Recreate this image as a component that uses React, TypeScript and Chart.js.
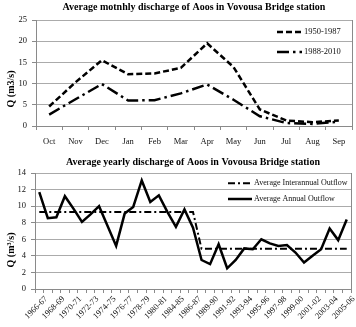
import React, { useEffect, useRef } from "react";
import { Chart, registerables } from "chart.js";

Chart.register(...registerables);

// ---------- Data ----------
const MONTHS = ["Oct", "Nov", "Dec", "Jan", "Feb", "Mar", "Apr", "May", "Jun", "Jul", "Aug", "Sep"];
const PERIOD_1950_1987 = [4.6, 10.3, 15.5, 12.2, 12.4, 13.7, 19.5, 13.9, 3.9, 1.3, 0.9, 1.3];
const PERIOD_1988_2010 = [2.7, 6.3, 9.9, 6.0, 6.1, 7.7, 9.8, 6.2, 2.3, 0.7, 0.5, 1.0];

const YEARS = [
  "1966-67", "1967-68", "1968-69", "1969-70", "1970-71", "1971-72", "1972-73", "1973-74",
  "1974-75", "1975-76", "1976-77", "1977-78", "1978-79", "1979-80", "1980-81", "1983-84",
  "1984-85", "1985-86", "1986-87", "1988-89", "1989-90", "1990-91", "1991-92", "1992-93",
  "1993-94", "1994-95", "1995-96", "1996-97", "1997-98", "1998-99", "1999-00", "2000-01",
  "2001-02", "2002-03", "2003-04", "2004-05", "2005-06",
];
const ANNUAL_OUTFLOW = [
  11.7, 8.55, 8.65, 11.2, 9.7, 8.1, 9.0, 10.0, 7.6, 5.2, 9.1, 9.9, 13.1, 10.5, 11.3, 9.3,
  7.5, 9.6, 7.4, 3.5, 3.0, 5.4, 2.5, 3.5, 4.9, 4.8, 6.0, 5.5, 5.2, 5.3, 4.4, 3.2,
  4.0, 4.8, 7.3, 5.9, 8.4,
];
const INTERANNUAL_OUTFLOW = [
  9.3, 9.3, 9.3, 9.3, 9.3, 9.3, 9.3, 9.3, 9.3, 9.3, 9.3, 9.3, 9.3, 9.3, 9.3, 9.3,
  9.3, 9.3, 9.3, 4.85, 4.85, 4.85, 4.85, 4.85, 4.85, 4.85, 4.85, 4.85, 4.85, 4.85, 4.85, 4.85,
  4.85, 4.85, 4.85, 4.85, 4.85,
];

const FONT = '"Liberation Serif", "Times New Roman", serif';

const decor = {
  id: "decor",
  afterDraw(chart: any, _args: any, opts: any) {
    const { ctx, chartArea: a } = chart;
    ctx.save();
    ctx.strokeStyle = "#8a8a8a";
    ctx.lineWidth = 1;
    ctx.beginPath();
    ctx.moveTo(Math.round(a.right) + 0.5, a.top);
    ctx.lineTo(Math.round(a.right) + 0.5, a.bottom);
    ctx.stroke();

    ctx.fillStyle = "#000";
    ctx.font = `bold 10px ${FONT}`;
    ctx.textAlign = "center";
    ctx.textBaseline = "middle";
    ctx.fillText(opts.title, (a.left + a.right) / 2, opts.titleY);

    ctx.save();
    ctx.translate(opts.yTitleX, opts.yTitleY);
    ctx.rotate(-Math.PI / 2);
    ctx.fillText(opts.yTitle, 0, 0);
    ctx.restore();

    for (const it of opts.legend) {
      const ds = chart.data.datasets[it.index];
      ctx.strokeStyle = ds.borderColor;
      ctx.lineWidth = ds.borderWidth;
      ctx.setLineDash(ds.borderDash || []);
      ctx.beginPath();
      ctx.moveTo(it.x1, it.y);
      ctx.lineTo(it.x2, it.y);
      ctx.stroke();
      ctx.setLineDash([]);
      ctx.fillStyle = "#111";
      ctx.font = `${opts.legendSize}px ${FONT}`;
      ctx.textAlign = "left";
      ctx.textBaseline = "middle";
      ctx.fillText(ds.label, it.textX, it.y);
    }
    ctx.restore();
  },
};

function MonthlyChart() {
  const ref = useRef<HTMLCanvasElement>(null);
  useEffect(() => {
    const chart = new Chart(ref.current!, {
      type: "line",
      data: {
        labels: MONTHS,
        datasets: [
          {
            label: "1950-1987",
            data: PERIOD_1950_1987,
            borderColor: "#000",
            borderWidth: 2.5,
            borderDash: [6, 3],
            pointRadius: 0,
            tension: 0,
            fill: false,
          },
          {
            label: "1988-2010",
            data: PERIOD_1988_2010,
            borderColor: "#000",
            borderWidth: 2.5,
            borderDash: [12, 4, 2.5, 4],
            pointRadius: 0,
            tension: 0,
            fill: false,
          },
        ],
      },
      options: {
        responsive: false,
        animation: false,
        devicePixelRatio: 1,
        layout: { padding: { top: 20, right: 4, left: 0, bottom: 0 } },
        plugins: {
          legend: { display: false },
          tooltip: { enabled: false },
          decor: {
            title: "Average motnhly discharge of Aoos in Vovousa Bridge station",
            titleY: 7.5,
            yTitle: "Q (m3/s)",
            yTitleX: 11,
            yTitleY: 89,
            legendSize: 8.5,
            legend: [
              { index: 0, x1: 277, x2: 302, textX: 304, y: 32 },
              { index: 1, x1: 277, x2: 302, textX: 304, y: 52 },
            ],
          },
        } as any,
        scales: {
          x: {
            offset: true,
            grid: { display: true, offset: true, drawOnChartArea: false, drawTicks: true, tickLength: 4, color: "#8a8a8a" },
            border: { color: "#8a8a8a" },
            ticks: { font: { family: FONT, size: 8.5 }, color: "#111", padding: 7, maxRotation: 0, autoSkip: false },
            afterFit: (s: any) => { s.height = 28; },
          },
          y: {
            min: 0,
            max: 25,
            ticks: { stepSize: 5, font: { family: FONT, size: 8.5 }, color: "#111", padding: 5 },
            grid: { color: "#ababab", tickLength: 4, tickColor: "#8a8a8a" },
            border: { color: "#8a8a8a" },
            afterFit: (s: any) => { s.width = 36; },
          },
        },
      },
      plugins: [decor as any],
    });
    return () => chart.destroy();
  }, []);
  return <canvas ref={ref} width={356} height={154} style={{ display: "block" }} />;
}

function YearlyChart() {
  const ref = useRef<HTMLCanvasElement>(null);
  useEffect(() => {
    const chart = new Chart(ref.current!, {
      type: "line",
      data: {
        labels: YEARS,
        datasets: [
          {
            label: "Average Interannual Outflow",
            data: INTERANNUAL_OUTFLOW,
            borderColor: "#000",
            borderWidth: 2,
            borderDash: [7, 3, 2, 3],
            pointRadius: 0,
            tension: 0,
            fill: false,
          },
          {
            label: "Average Annual Outflow",
            data: ANNUAL_OUTFLOW,
            borderColor: "#000",
            borderWidth: 2.5,
            borderDash: [],
            pointRadius: 0,
            tension: 0,
            fill: false,
          },
        ],
      },
      options: {
        responsive: false,
        animation: false,
        devicePixelRatio: 1,
        layout: { padding: { top: 19, right: 5, left: 0, bottom: 0 } },
        plugins: {
          legend: { display: false },
          tooltip: { enabled: false },
          decor: {
            title: "Average yearly discharge of Aoos in Vovousa Bridge station",
            titleY: 8.3,
            yTitle: "Q (m\u00B3/s)",
            yTitleX: 11,
            yTitleY: 96,
            legendSize: 8,
            legend: [
              { index: 0, x1: 228, x2: 252, textX: 254, y: 29.3 },
              { index: 1, x1: 228, x2: 252, textX: 254, y: 45 },
            ],
          },
        } as any,
        scales: {
          x: {
            offset: true,
            grid: { display: true, offset: true, drawOnChartArea: false, drawTicks: true, tickLength: 4, color: "#8a8a8a" },
            border: { color: "#8a8a8a" },
            ticks: {
              font: { family: FONT, size: 8.5 },
              color: "#111",
              padding: 1,
              minRotation: 45,
              maxRotation: 45,
              autoSkip: false,
              labelOffset: 7,
              callback: function (this: any, _v: any, i: number) {
                return i % 2 === 0 ? YEARS[i] : "";
              },
            },
            afterFit: (s: any) => { s.height = 38; },
          },
          y: {
            min: 0,
            max: 14,
            ticks: { stepSize: 2, font: { family: FONT, size: 8.5 }, color: "#111", padding: 5 },
            grid: { color: "#ababab", tickLength: 4, tickColor: "#8a8a8a" },
            border: { color: "#8a8a8a" },
            afterFit: (s: any) => { s.width = 35; },
          },
        },
      },
      plugins: [decor as any],
    });
    return () => chart.destroy();
  }, []);
  return <canvas ref={ref} width={356} height={173} style={{ display: "block" }} />;
}

export default function App() {
  return (
    <div style={{ position: "absolute", left: 0, top: 0, width: 356, height: 327, background: "#fff" }}>
      <MonthlyChart />
      <YearlyChart />
    </div>
  );
}
